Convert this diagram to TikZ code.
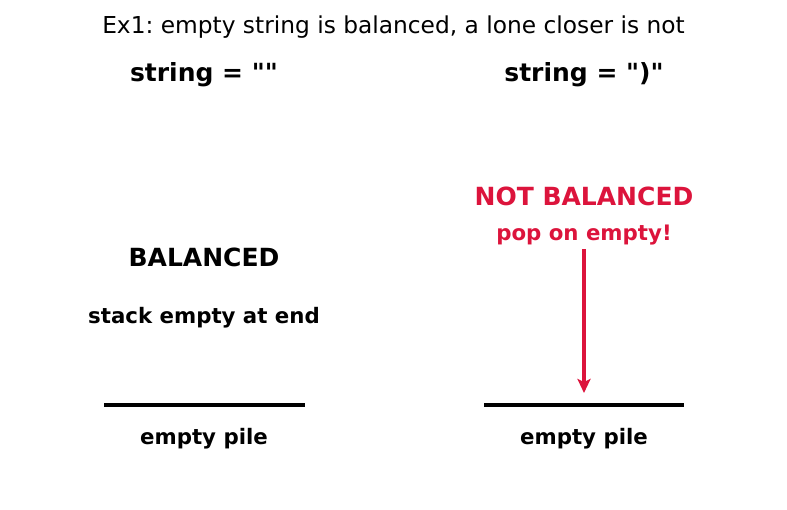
\documentclass[tikz,border=0pt]{standalone}
\usepackage{fontspec}
\setmainfont{DejaVu Sans}
\usepackage{xcolor}
\usetikzlibrary{arrows.meta, positioning}
\definecolor{crimson}{RGB}{220,20,60}
\frenchspacing

\begin{document}
\begin{tikzpicture}[x=1pt, y=-1pt, >={Stealth[length=14pt,width=13pt,inset=3pt]},
    every node/.style={inner sep=0pt, anchor=center},
    head/.style={font=\fontsize{25}{30}\selectfont\bfseries},
    note/.style={font=\fontsize{21.3}{25}\selectfont\bfseries},
    pile/.style={line width=4.5pt}]
    % Khung hình theo kích thước ảnh gốc
    \useasboundingbox (0,0) rectangle (787,510);
    % Tiêu đề
    \node (title) at (393.5,27) {\fontsize{23.3}{28}\selectfont Ex1: empty string is balanced, a lone closer is not};
    \node[head] (lstr) at (204,75) {string = \textquotedbl\textquotedbl};
    \node[head] (rstr) at (584,75) {string = \textquotedbl)\textquotedbl};
    % Cột trái: chuỗi rỗng
    \node[head] (bal) at (204,257) {BALANCED};
    \node[note] (endmsg) at (204,318) {stack empty at end};
    \coordinate (lpileA) at (104,405);
    \coordinate (lpileB) at (305,405);
    \draw[pile] (lpileA) -- (lpileB);
    \node[note] (lpile) at (204,439) {empty pile};
    % Cột phải: dấu đóng đơn lẻ
    \node[head, text=crimson] (notbal) at (584,196) {NOT BALANCED};
    \node[note, text=crimson] (popmsg) at (584,235) {pop on empty!};
    \coordinate (rpileA) at (484,405);
    \coordinate (rpileB) at (684,405);
    \draw[pile] (rpileA) -- (rpileB);
    \coordinate (hit) at (584,393);
    \draw[->, crimson, line width=4pt] ([yshift=-4pt]popmsg.south) -- (hit);
    \node[note] (rpile) at (584,439) {empty pile};
\end{tikzpicture}
\end{document}
